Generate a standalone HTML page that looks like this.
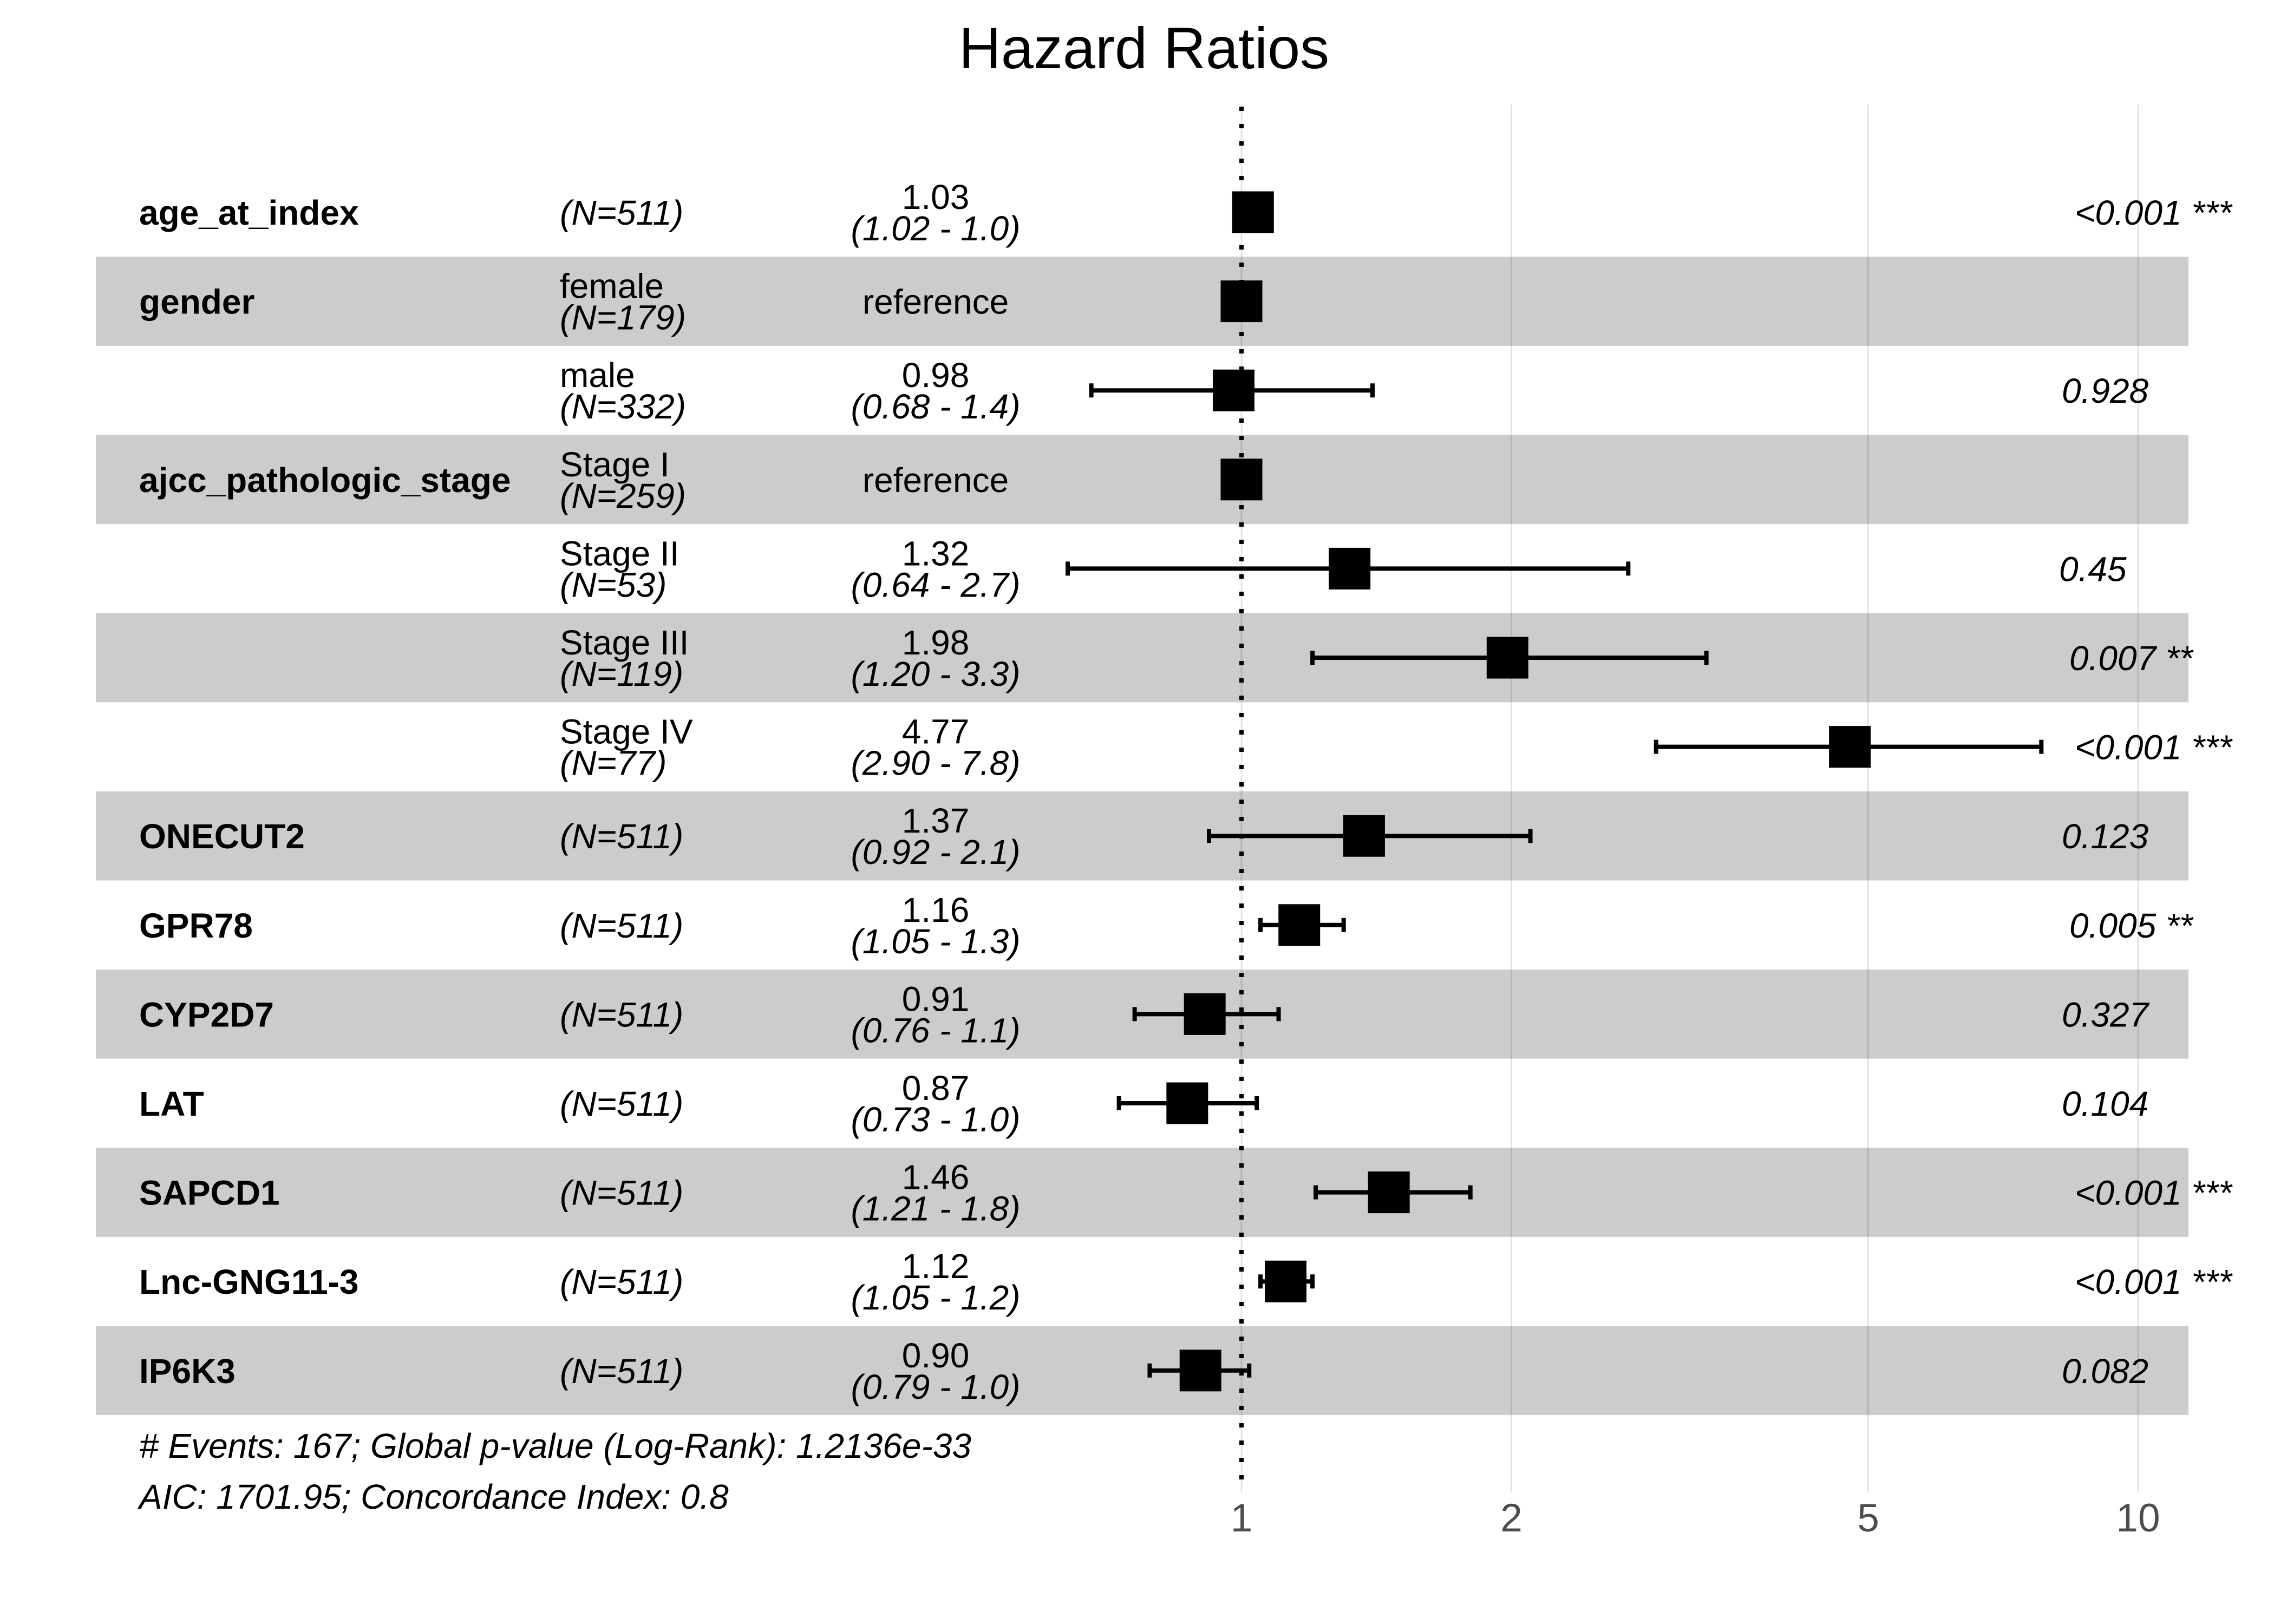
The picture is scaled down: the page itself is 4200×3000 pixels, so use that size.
<!DOCTYPE html>
<html><head><meta charset="utf-8"><style>
html,body{margin:0;padding:0;background:#fff;}
svg{display:block;}
text{font-family:"Liberation Sans",sans-serif;}
</style></head><body>
<svg id="chart" xmlns="http://www.w3.org/2000/svg" width="4200" height="3000" viewBox="0 0 4200 3000">
<text x="2113" y="126" font-size="108" text-anchor="middle" fill="#000">Hazard Ratios</text>
<g id="bands"></g><g id="grid"></g><g id="marks"></g><g id="labels"></g>
</svg>
<script>
const variables = ["age_at_index","gender","","ajcc_pathologic_stage","","","","ONECUT2","GPR78","CYP2D7","LAT","SAPCD1","Lnc-GNG11-3","IP6K3"];
const levels = ["","female","male","Stage I","Stage II","Stage III","Stage IV","","","","","","",""];
const counts = ["511","179","332","259","53","119","77","511","511","511","511","511","511","511"];
const hr = [1.03,1,0.98,1,1.32,1.98,4.77,1.37,1.16,0.91,0.87,1.46,1.12,0.90];
const ciLow = [1.02,1,0.68,1,0.64,1.20,2.90,0.92,1.05,0.76,0.73,1.21,1.05,0.79];
const ciHigh = [1.04,1,1.4,1,2.7,3.3,7.8,2.1,1.3,1.1,1.04,1.8,1.2,1.02];
const hrLabels = ["1.03","reference","0.98","reference","1.32","1.98","4.77","1.37","1.16","0.91","0.87","1.46","1.12","0.90"];
const ciLabels = ["(1.02 - 1.0)","","(0.68 - 1.4)","","(0.64 - 2.7)","(1.20 - 3.3)","(2.90 - 7.8)","(0.92 - 2.1)","(1.05 - 1.3)","(0.76 - 1.1)","(0.73 - 1.0)","(1.21 - 1.8)","(1.05 - 1.2)","(0.79 - 1.0)"];
const pLabels = ["<0.001 ***","","0.928","","0.45","0.007 **","<0.001 ***","0.123","0.005 **","0.327","0.104","<0.001 ***","<0.001 ***","0.082"];
const xTicks = [1,2,5,10];
const footerLines = ["# Events: 167; Global p-value (Log-Rank): 1.2136e-33","AIC: 1701.95; Concordance Index: 0.8"];

const NS="http://www.w3.org/2000/svg";
const X=v=>2293+Math.log10(v)*1656;
const ROW0=392, PITCH=164.6, FS=64;
const Y=i=>ROW0+i*PITCH;
function mk(tag,attrs,parent){const e=document.createElementNS(NS,tag);for(const k in attrs)e.setAttribute(k,attrs[k]);parent.appendChild(e);return e;}
const bands=document.getElementById('bands'),grid=document.getElementById('grid'),marks=document.getElementById('marks'),labels=document.getElementById('labels');
const svg=document.getElementById('chart');

hr.forEach((v,i)=>{
  if(i%2===1){
    const r=mk('rect',{x:177,y:Y(i)-PITCH/2,width:3865,height:PITCH,fill:'#cccccc'},bands);
    
    
  }
});
xTicks.forEach(t=>{
  const l=mk('line',{x1:X(t),x2:X(t),y1:193,y2:2757,stroke:'rgba(0,0,0,0.11)','stroke-width':3},grid);
  
  
  const tl=mk('text',{x:X(t),y:2829,'font-size':73,'text-anchor':'middle',fill:'#4d4d4d'},grid);
  tl.textContent=t;
  
  
});
const ref=mk('line',{x1:X(1),x2:X(1),y1:197,y2:2757,stroke:'#000','stroke-width':8,'stroke-dasharray':'8 24'},grid);



hr.forEach((v,i)=>{
  const y=Y(i);
  if(ciLow[i]!==ciHigh[i]){
    const g=mk('g',{stroke:'#000','stroke-width':8},marks);
    
    
    mk('line',{x1:X(ciLow[i]),x2:X(ciHigh[i]),y1:y,y2:y},g);
    mk('line',{x1:X(ciLow[i]),x2:X(ciLow[i]),y1:y-13,y2:y+13},g);
    mk('line',{x1:X(ciHigh[i]),x2:X(ciHigh[i]),y1:y-13,y2:y+13},g);
  }
  const b=mk('rect',{x:X(v)-38.5,y:y-38.5,width:77,height:77,fill:'#000'},marks);
  
  

  if(variables[i]){
    const t=mk('text',{x:257,y:y+23,'font-size':FS,'font-weight':'bold'},labels);
    t.textContent=variables[i];
    
    
  }
  if(levels[i]){
    const a=mk('text',{x:1034,y:y-6,'font-size':FS},labels);a.textContent=levels[i];
    
    
    const n=mk('text',{x:1034,y:y+52,'font-size':FS,'font-style':'italic'},labels);n.textContent='(N='+counts[i]+')';
    
    
  } else {
    const n=mk('text',{x:1034,y:y+23,'font-size':FS,'font-style':'italic'},labels);n.textContent='(N='+counts[i]+')';
    
    
  }
  if(ciLabels[i]){
    const h=mk('text',{x:1728,y:y-6,'font-size':FS,'text-anchor':'middle'},labels);h.textContent=hrLabels[i];
    
    
    const c=mk('text',{x:1728,y:y+52,'font-size':FS,'text-anchor':'middle','font-style':'italic'},labels);c.textContent=ciLabels[i];
    
    
  } else {
    const h=mk('text',{x:1728,y:y+23,'font-size':FS,'text-anchor':'middle'},labels);h.textContent=hrLabels[i];
    
    
  }
  if(pLabels[i]){
    const num=pLabels[i].split(' ')[0];
    const px=num.startsWith('<')?3852:(pLabels[i]==='0.45'?3823:(pLabels[i].includes('*')?3842:3828));
    const p=mk('text',{x:px-20,y:y+23,'font-size':FS,'font-style':'italic'},labels);p.textContent=pLabels[i];
    
    
  }
});
footerLines.forEach((s,k)=>{
  const f=mk('text',{x:257,y:2693+k*94,'font-size':64,'font-style':'italic'},svg);
  f.textContent=s;
  
  
});
</script>
</body></html>
